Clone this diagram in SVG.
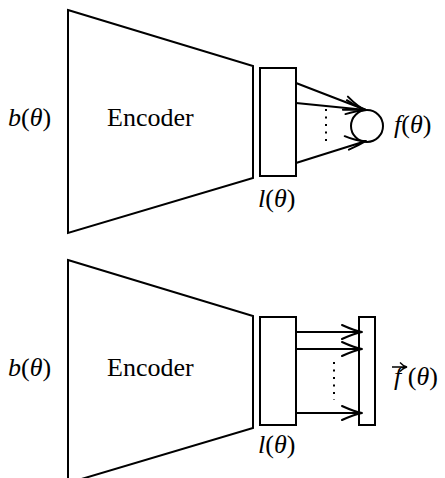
<svg xmlns="http://www.w3.org/2000/svg" width="445" height="478" viewBox="0 0 445 478">
<g id="encoder1">
<polygon fill="#fff" stroke="#000" stroke-width="2" points="68,10 253,66 253,178 68,233"/>
<text x="107" y="126" font-family="Liberation Serif" font-size="26">Encoder</text>
</g>
<text x="8" y="126" font-family="Liberation Serif" font-size="26"><tspan font-style="italic">b</tspan>(<tspan font-style="italic">θ</tspan>)</text>
<g id="latent1">
<rect fill="#fff" stroke="#000" stroke-width="2" x="260" y="68" width="36" height="108"/>
<text x="258" y="207" font-family="Liberation Serif" font-size="26"><tspan font-style="italic">l</tspan>(<tspan font-style="italic">θ</tspan>)</text>
</g>
<g id="output1">
<circle fill="#fff" stroke="#000" stroke-width="2" cx="367" cy="126" r="16"/>
<text x="394" y="133" font-family="Liberation Serif" font-size="26"><tspan font-style="italic">f</tspan>(<tspan font-style="italic">θ</tspan>)</text>
</g>
<g id="encoder2">
<polygon fill="#fff" stroke="#000" stroke-width="2" points="68,260 253,316 253,428 68,483"/>
<text x="107" y="376" font-family="Liberation Serif" font-size="26">Encoder</text>
</g>
<text x="8" y="376" font-family="Liberation Serif" font-size="26"><tspan font-style="italic">b</tspan>(<tspan font-style="italic">θ</tspan>)</text>
<g id="latent2">
<rect fill="#fff" stroke="#000" stroke-width="2" x="260" y="317" width="36" height="108"/>
<text x="258" y="453" font-family="Liberation Serif" font-size="26"><tspan font-style="italic">l</tspan>(<tspan font-style="italic">θ</tspan>)</text>
</g>
<g id="output2">
<rect fill="#fff" stroke="#000" stroke-width="2" x="359" y="317" width="16" height="108"/>
<text x="394" y="385" font-family="Liberation Serif" font-size="26"><tspan font-style="italic">f</tspan> (<tspan font-style="italic">θ</tspan>)</text>
<path fill="none" stroke="#000" stroke-width="1.3" d="M392,367 H406 M400,362.5 Q403,366 407,367 Q403,368 400,371.5"/>
</g>
<g id="connectors" fill="none" stroke="#000" stroke-width="2" stroke-linecap="round">
<path d="M296,83 L366,110 M347.9,96.6 Q358.3,107.3 366,110 Q357.8,109.5 342.9,109.7"/>
<path d="M296,103 L366,110 M346.8,100.2 Q358,107.7 366,110 Q357.7,110.7 345.4,114.1"/>
<path d="M296,163 L366,141 M344.7,136.2 Q358.3,141.8 366,141 Q359.2,145.2 348.9,149.6"/>
<line stroke-dasharray="2 5.5" stroke-linecap="butt" x1="326" y1="109" x2="326" y2="146"/>
<path d="M296,332 H362 M342,325 Q354,330.5 362,332 Q354,333.5 342,339"/>
<path d="M296,349 H362 M342,342 Q354,347.5 362,349 Q354,350.5 342,356"/>
<path d="M296,413 H362 M342,406 Q354,411.5 362,413 Q354,414.5 342,420"/>
<line stroke-dasharray="2 5.5" stroke-linecap="butt" x1="334" y1="362" x2="334" y2="400"/>
</g>
</svg>
